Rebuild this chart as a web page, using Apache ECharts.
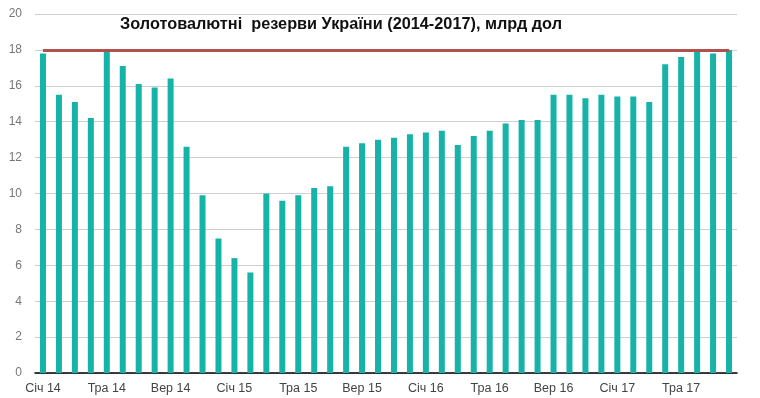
<!DOCTYPE html>
<html>
<head>
<meta charset="utf-8">
<script src="https://cdn.jsdelivr.net/npm/echarts@6/dist/echarts.min.js"></script>
<style>html,body{margin:0;padding:0;background:#fff}#c{width:760px;height:398px}</style>
</head>
<body>
<div id="c"></div>
<script>
const months = ['Січ','Лют','Бер','Кві','Тра','Чер','Лип','Сер','Вер','Жов','Лис','Гру'];
const years = ['14','15','16','17'];
const categories = [];
for (const y of years) for (const m of months) categories.push(m + ' ' + y);
categories.length = 44; // Jan 2014 .. Aug 2017

const reserves = [
  17.8, 15.5, 15.1, 14.2, 17.9, 17.1, 16.1, 15.9, 16.4, 12.6, 9.9, 7.5,
  6.4, 5.6, 10.0, 9.6, 9.9, 10.3, 10.4, 12.6, 12.8, 13.0, 13.1, 13.3,
  13.4, 13.5, 12.7, 13.2, 13.5, 13.9, 14.1, 14.1, 15.5, 15.5, 15.3, 15.5,
  15.4, 15.4, 15.1, 17.2, 17.6, 18.0, 17.8, 18.0
];
const referenceLevel = 18;
const yTicks = { min: 0, max: 20, interval: 2 };
const titleText = 'Золотовалютні  резерви України (2014-2017), млрд дол';

const chart = echarts.init(document.getElementById('c'));
chart.setOption({
  animation: false,
  title: {
    text: titleText,
    left: 336, top: 12, textAlign: 'center',
    textStyle: { fontFamily: 'Liberation Sans', fontSize: 16.3, fontWeight: 'bold', color: '#111' }
  },
  grid: { left: 35, right: 23, top: 14, bottom: 25, containLabel: false },
  xAxis: {
    type: 'category', data: categories, boundaryGap: true,
    axisLine: { lineStyle: { color: '#000', width: 1.5 } },
    axisTick: { show: false },
    axisLabel: { interval: 3, color: '#444', fontSize: 12.5, fontFamily: 'Liberation Sans', margin: 9 }
  },
  yAxis: {
    type: 'value', min: yTicks.min, max: yTicks.max, interval: yTicks.interval,
    axisLine: { show: false }, axisTick: { show: false },
    axisLabel: { color: '#777', fontSize: 12, fontFamily: 'Liberation Sans', margin: 13 },
    splitLine: { lineStyle: { color: '#cfcfcf', width: 1 } }
  },
  series: [{
    type: 'bar', data: reserves, barWidth: 6,
    itemStyle: { color: '#17b3a9' },
    markLine: {
      silent: true, symbol: 'none', label: { show: false },
      lineStyle: { color: '#b0514e', width: 3, type: 'solid' },
      data: [[
        { coord: [categories[0], referenceLevel] },
        { coord: [categories[categories.length - 1], referenceLevel] }
      ]]
    }
  }]
});
</script>
</body>
</html>
